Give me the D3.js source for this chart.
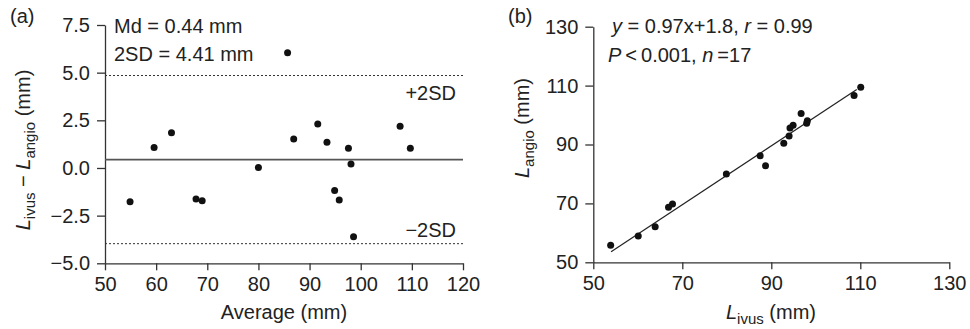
<!DOCTYPE html>
<html>
<head>
<meta charset="utf-8">
<script src="https://cdn.jsdelivr.net/npm/d3@7"></script>
<style>
	body { margin: 0; background: #fff; }
	svg { display: block; font-family: 'Liberation Sans', Arial, sans-serif; }
	.axis path, .axis line { stroke: #333; stroke-width: 1.3; }
	.axis text { font-size: 20px; fill: #222; font-family: 'Liberation Sans', Arial, sans-serif; }
	.lbl { font-size: 20px; fill: #222; }
</style>
</head>
<body>
<script>
// panel (a): Bland-Altman
const avgMm = [59.6, 63.0, 85.7, 86.9, 80.0, 91.6, 93.4, 97.6, 98.1, 107.7, 109.7, 54.9, 67.8, 69.0, 94.9, 95.8, 98.6];
const diffMm = [1.08, 1.85, 6.04, 1.52, 0.03, 2.31, 1.35, 1.03, 0.21, 2.19, 1.03, -1.77, -1.63, -1.72, -1.18, -1.68, -3.61];
const meanDiff = 0.44;
const twoSD = 4.41;
const ticksAx = [50, 60, 70, 80, 90, 100, 110, 120];
const ticksAy = [-5.0, -2.5, 0.0, 2.5, 5.0, 7.5];

// panel (b): correlation
const lIvus = [110.1, 108.6, 96.7, 98.1, 97.95, 94.9, 94.2, 94.0, 92.8, 87.5, 88.7, 79.9, 67.8, 66.9, 63.9, 60.1, 53.9];
const lAngio = [109.4, 106.6, 100.5, 98.1, 97.2, 96.5, 95.6, 92.9, 90.4, 86.2, 82.8, 80.0, 69.8, 68.7, 62.1, 58.9, 55.8];
const fitLine = [[54, 53.6], [109.2, 108.7]];
const ticksB = [50, 70, 90, 110, 130];

const svg = d3.select('body').append('svg').attr('width', 970).attr('height', 329);

// subscripted label helper: parts = [[text, kind]] kind: 'it' italic, 'sub' subscript, '' plain
function richText(el, parts) {
	let down = false;
	parts.forEach(([t, kind]) => {
		const ts = el.append('tspan').text(t);
		if (kind === 'it') ts.attr('font-style', 'italic');
		if (kind === 'sub') { ts.attr('font-size', '15px').attr('dy', down ? 0 : 5); down = true; }
		else if (down) { ts.attr('dy', -5); down = false; }
	});
	return el;
}

// ---------- (a)
const xA = d3.scaleLinear().domain([50, 120]).range([105, 463]);
const yA = d3.scaleLinear().domain([-5, 7.5]).range([263.3, 25]);

svg.append('g').attr('class', 'axis').attr('transform', 'translate(0,' + yA(-5) + ')')
	.call(d3.axisBottom(xA).tickValues(ticksAx).tickSize(7).tickSizeOuter(0).tickPadding(7).tickFormat(d3.format('d')));
svg.append('g').attr('class', 'axis').attr('transform', 'translate(' + xA(50) + ',0)')
	.call(d3.axisLeft(yA).tickValues(ticksAy).tickSize(8).tickSizeOuter(0).tickPadding(7).tickFormat(d3.format('.1f')));

svg.append('line').attr('x1', xA(50)).attr('x2', xA(120)).attr('y1', yA(meanDiff)).attr('y2', yA(meanDiff))
	.attr('stroke', '#555').attr('stroke-width', 1.6);
[meanDiff + twoSD, meanDiff - twoSD].forEach(v => {
	svg.append('line').attr('x1', xA(50)).attr('x2', xA(120)).attr('y1', yA(v)).attr('y2', yA(v))
		.attr('stroke', '#333').attr('stroke-width', 1).attr('stroke-dasharray', '2,2');
});

svg.append('g').selectAll('circle').data(avgMm).join('circle')
	.attr('cx', d => xA(d)).attr('cy', (d, i) => yA(diffMm[i])).attr('r', 3.5).attr('fill', '#111');

svg.append('text').attr('class', 'lbl').attr('x', 10).attr('y', 23).text('(a)');
svg.append('text').attr('class', 'lbl').attr('x', 114).attr('y', 33).text('Md = 0.44 mm');
svg.append('text').attr('class', 'lbl').attr('x', 114).attr('y', 61).text('2SD = 4.41 mm');
svg.append('text').attr('class', 'lbl').attr('x', 456).attr('y', 100).attr('text-anchor', 'end').text('+2SD');
svg.append('text').attr('class', 'lbl').attr('x', 456).attr('y', 237).attr('text-anchor', 'end').text('\u22122SD');
svg.append('text').attr('class', 'lbl').attr('x', xA(85)).attr('y', 319).attr('text-anchor', 'middle').text('Average (mm)');

richText(svg.append('text').attr('class', 'lbl').attr('text-anchor', 'middle')
	.attr('transform', 'translate(30,150) rotate(-90)'),
	[['L', 'it'], ['ivus', 'sub'], [' \u2212 ', ''], ['L', 'it'], ['angio', 'sub'], [' (mm)', '']]);

// ---------- (b)
const xB = d3.scaleLinear().domain([50, 130]).range([593.3, 949.3]);
const yB = d3.scaleLinear().domain([50, 130]).range([262.3, 26.7]);

svg.append('g').attr('class', 'axis').attr('transform', 'translate(0,' + yB(50) + ')')
	.call(d3.axisBottom(xB).tickValues(ticksB).tickSize(7).tickSizeOuter(0).tickPadding(7));
svg.append('g').attr('class', 'axis').attr('transform', 'translate(' + xB(50) + ',0)')
	.call(d3.axisLeft(yB).tickValues(ticksB).tickSize(8).tickSizeOuter(0).tickPadding(7));

svg.append('line').attr('x1', xB(fitLine[0][0])).attr('y1', yB(fitLine[0][1]))
	.attr('x2', xB(fitLine[1][0])).attr('y2', yB(fitLine[1][1]))
	.attr('stroke', '#222').attr('stroke-width', 1.2);

svg.append('g').selectAll('circle').data(lIvus).join('circle')
	.attr('cx', d => xB(d)).attr('cy', (d, i) => yB(lAngio[i])).attr('r', 3.5).attr('fill', '#111');

svg.append('text').attr('class', 'lbl').attr('x', 508).attr('y', 23).text('(b)');
richText(svg.append('text').attr('class', 'lbl').attr('x', 612).attr('y', 33),
	[['y', 'it'], [' = 0.97x+1.8, ', ''], ['r', 'it'], [' = 0.99', '']]);
richText(svg.append('text').attr('class', 'lbl').attr('x', 608).attr('y', 62),
	[['P', 'it'], ['\u2009<\u20090.001, ', ''], ['n', 'it'], ['\u2009=17', '']]);

richText(svg.append('text').attr('class', 'lbl').attr('x', 771).attr('y', 319).attr('text-anchor', 'middle'),
	[['L', 'it'], ['ivus', 'sub'], [' (mm)', '']]);

richText(svg.append('text').attr('class', 'lbl').attr('text-anchor', 'middle')
	.attr('transform', 'translate(529,128) rotate(-90)'),
	[['L', 'it'], ['angio', 'sub'], [' (mm)', '']]);
</script>
</body>
</html>
